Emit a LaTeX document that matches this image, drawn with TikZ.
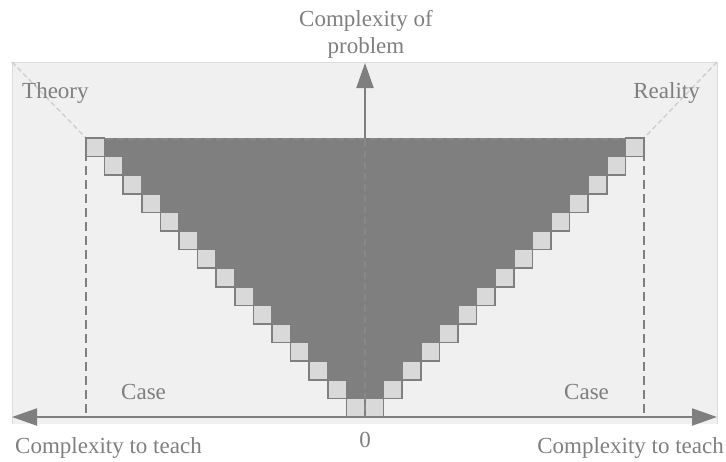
\documentclass[tikz,border=0pt]{standalone}
\usepackage{fontspec}
\setmainfont{Liberation Serif}
\usetikzlibrary{arrows.meta}
\definecolor{bgfill}{HTML}{F0F0F0}
\definecolor{bgline}{HTML}{DCDCDC}
\definecolor{darkg}{HTML}{7F7F7F}
\definecolor{sqfill}{HTML}{D9D9D9}
\definecolor{txt}{HTML}{7F7F7F}
\definecolor{diag}{HTML}{D0D0D0}
\definecolor{faint}{HTML}{888888}
\begin{document}
\begin{tikzpicture}[x=1pt,y=-1pt,
  lbl/.style={inner sep=0pt, text=txt, font=\fontsize{23}{27}\selectfont},
  axis/.style={draw=darkg, line width=2pt},
  sqbox/.style={draw=darkg, fill=sqfill, line width=1.5pt},
  guide/.style={draw=darkg, line width=1.5pt, dash pattern=on 9pt off 5pt},
  diagline/.style={draw=diag, line width=1.5pt, dash pattern=on 5pt off 3pt},
  faintline/.style={draw=faint, line width=1.2pt, dash pattern=on 7pt off 4pt}]
\useasboundingbox (0,0) rectangle (726,461);
\def\stp{18.6}
\def\cxx{365}
\def\byy{417}
% background panel
\fill[bgfill] (12,62) rectangle (717,424);
\draw[bgline, line width=1pt] (12,424) -- (12,62) -- (717,62) -- (717,424);
% coordinates
\coordinate (O) at (365,417);
\coordinate (T) at (365,63);
\coordinate (L) at (12,417);
\coordinate (R) at (717,417);
\coordinate (TL) at (12,62);
\coordinate (TR) at (717,62);
\coordinate (GL) at (86,138);
\coordinate (GR) at (644,138);
\coordinate (GLb) at (86,417);
\coordinate (GRb) at (644,417);
% diagonal guide lines
\draw[diagline] (TL) -- (GL);
\draw[diagline] (TR) -- (GR);
% vertical axis
\draw[axis, -{Triangle[length=25pt,width=17pt]}] (O) -- (T);
% dark region
\fill[darkg] (GL) -- (GR) -- (O) -- cycle;
% staircase squares
\foreach \i in {0,...,14}{
  \draw[sqbox] ({\cxx-(\i+1)*\stp},{\byy-(\i+1)*\stp}) rectangle ({\cxx-\i*\stp},{\byy-\i*\stp});
  \draw[sqbox] ({\cxx+\i*\stp},{\byy-(\i+1)*\stp}) rectangle ({\cxx+(\i+1)*\stp},{\byy-\i*\stp});
}
% faint dashed lines on dark region
\draw[faintline] (365,140) -- (365,417);
\draw[faintline] (106,139) -- (624,139);
% dashed verticals
\draw[guide] (GL) -- (GLb);
\draw[guide] (GR) -- (GRb);
% horizontal axis
\draw[axis, {Triangle[length=25pt,width=17pt]}-{Triangle[length=25pt,width=17pt]}] (L) -- (R);
% labels
\node[lbl, anchor=base west] (theory) at (22,98) {Theory};
\node[lbl, anchor=base east] (reality) at (700,98) {Reality};
\node[lbl, anchor=base west] (caseL) at (121,399) {Case};
\node[lbl, anchor=base west] (caseR) at (564,399) {Case};
\node[lbl, anchor=base] (zero) at (365,447) {0};
\node[lbl, anchor=base west] (ctL) at (15,453) {Complexity to teach};
\node[lbl, anchor=base east] (ctR) at (724,453) {Complexity to teach};
\node[lbl, anchor=base] (cp1) at (366,26) {Complexity of};
\node[lbl, anchor=base] (cp2) at (366,53) {problem};
\end{tikzpicture}
\end{document}
